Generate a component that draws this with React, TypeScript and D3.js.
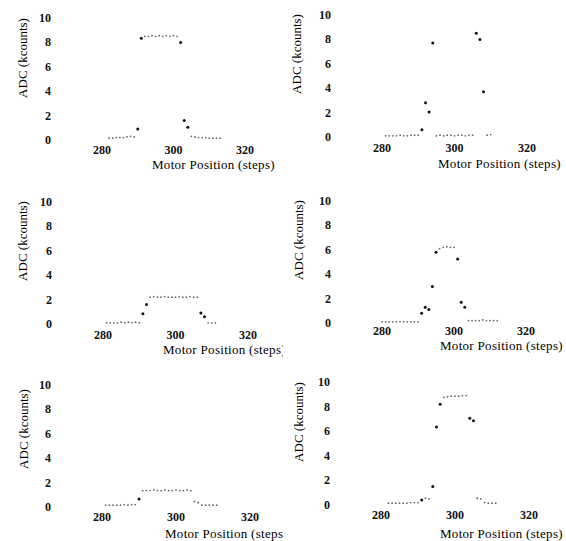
import React from "react";
import * as d3 from "d3";

// motor position (steps) and ADC reading (kcounts) for each of the six scans
const stepsA = [282, 283, 284, 285, 286, 287, 288, 289, 290, 291, 292, 293, 294, 295, 296, 297, 298, 299, 300, 301, 302, 303, 304, 305, 306, 307, 308, 309, 310, 311, 312, 313];
const adcA = [0.15, 0.15, 0.2, 0.2, 0.2, 0.25, 0.3, 0.25, 0.9, 8.35, 8.5, 8.5, 8.55, 8.5, 8.55, 8.5, 8.55, 8.5, 8.55, 8.5, 8.0, 1.6, 1.05, 0.3, 0.25, 0.2, 0.2, 0.2, 0.15, 0.15, 0.15, 0.15];

const stepsB = [281, 282, 283, 284, 285, 286, 287, 288, 289, 290, 291, 292, 293, 294, 295, 296, 297, 298, 299, 300, 301, 302, 303, 304, 305, 306, 307, 308, 309, 310];
const adcB = [0.1, 0.1, 0.1, 0.1, 0.15, 0.1, 0.1, 0.15, 0.15, 0.15, 0.6, 2.8, 2.05, 7.7, 0.1, 0.15, 0.1, 0.15, 0.15, 0.1, 0.15, 0.15, 0.1, 0.15, 0.15, 8.5, 8.0, 3.7, 0.15, 0.2];

const stepsC = [281, 282, 283, 284, 285, 286, 287, 288, 289, 290, 291, 292, 293, 294, 295, 296, 297, 298, 299, 300, 301, 302, 303, 304, 305, 306, 307, 308, 309, 310, 311];
const adcC = [0.1, 0.1, 0.1, 0.1, 0.15, 0.1, 0.15, 0.1, 0.15, 0.1, 0.85, 1.6, 2.2, 2.25, 2.2, 2.2, 2.25, 2.2, 2.2, 2.2, 2.25, 2.2, 2.2, 2.25, 2.2, 2.2, 0.9, 0.6, 0.1, 0.1, 0.1];

const stepsD = [280, 281, 282, 283, 284, 285, 286, 287, 288, 289, 290, 291, 292, 293, 294, 295, 296, 297, 298, 299, 300, 301, 302, 303, 304, 305, 306, 307, 308, 309, 310, 311, 312];
const adcD = [0.1, 0.1, 0.1, 0.1, 0.1, 0.1, 0.1, 0.1, 0.1, 0.1, 0.1, 0.8, 1.3, 1.1, 3.0, 5.8, 6.1, 6.2, 6.25, 6.2, 6.2, 5.25, 1.7, 1.3, 0.2, 0.2, 0.2, 0.2, 0.25, 0.2, 0.2, 0.2, 0.2];

const stepsE = [281, 282, 283, 284, 285, 286, 287, 288, 289, 290, 291, 292, 293, 294, 295, 296, 297, 298, 299, 300, 301, 302, 303, 304, 305, 306, 307, 308, 309, 310, 311];
const adcE = [0.15, 0.15, 0.15, 0.15, 0.15, 0.2, 0.15, 0.2, 0.2, 0.65, 1.35, 1.35, 1.35, 1.4, 1.35, 1.35, 1.4, 1.35, 1.35, 1.4, 1.35, 1.35, 1.4, 1.35, 0.45, 0.35, 0.15, 0.15, 0.15, 0.15, 0.15];

const stepsF = [282, 283, 284, 285, 286, 287, 288, 289, 290, 291, 292, 293, 294, 295, 296, 297, 298, 299, 300, 301, 302, 303, 304, 305, 306, 307, 308, 309, 310, 311];
const adcF = [0.15, 0.15, 0.15, 0.15, 0.15, 0.15, 0.2, 0.2, 0.2, 0.4, 0.55, 0.5, 1.5, 6.35, 8.2, 8.75, 8.8, 8.85, 8.85, 8.85, 8.9, 8.9, 7.05, 6.85, 0.55, 0.5, 0.2, 0.15, 0.15, 0.15];

const xTicks = [280, 300, 320];
const yTicks = [0, 2, 4, 6, 8, 10];
const xTitle = "Motor Position (steps)";
const yTitle = "ADC (kcounts)";

const font = "'Liberation Serif', 'Times New Roman', serif";

// where each scan sits on the page (pixel range of steps 280..320 and of 0..10 kcounts)
const layout = [
  { steps: stepsA, adc: adcA, xr: [102, 245], yr: [140, 18], clip: 283, tx: 152, ty: 164, yl: 22, ylc: 58, tickY: 150 },
  { steps: stepsB, adc: adcB, xr: [382, 527], yr: [137, 15], clip: 566, tx: 438, ty: 163, yl: 296, ylc: 54, tickY: 148 },
  { steps: stepsC, adc: adcC, xr: [103, 248], yr: [324, 202], clip: 283, tx: 163, ty: 349, yl: 22, ylc: 241, tickY: 335 },
  { steps: stepsD, adc: adcD, xr: [382, 526], yr: [323, 201], clip: 566, tx: 440, ty: 345, yl: 298, ylc: 240, tickY: 331 },
  { steps: stepsE, adc: adcE, xr: [102, 250], yr: [507, 385], clip: 283, tx: 165, ty: 533, yl: 23, ylc: 429, tickY: 517 },
  { steps: stepsF, adc: adcF, xr: [381, 529], yr: [505, 382], clip: 566, tx: 440, ty: 533, yl: 298, ylc: 422, tickY: 515 },
];

type PanelProps = { id: number; cfg: (typeof layout)[number] };

const Panel = ({ id, cfg }: PanelProps) => {
  const x = d3.scaleLinear().domain([280, 320]).range(cfg.xr);
  const y = d3.scaleLinear().domain([0, 10]).range(cfg.yr);
  const pts = cfg.steps.map((s, i) => ({ s, v: cfg.adc[i] }));

  // isolated readings print darker than the runs of near-equal ones
  const lone = pts.map((p, i) => {
    const d = [pts[i - 1], pts[i + 1]].filter(Boolean).map((q) => Math.abs(q.v - p.v));
    return Math.min(...d) > 0.15;
  });

  const left = cfg.clip === 283 ? 0 : 283;

  return (
    <g clipPath={`url(#clip${id})`}>
      <clipPath id={`clip${id}`}>
        <rect x={left} y={0} width={cfg.clip - left} height={541} />
      </clipPath>

      {yTicks.map((t) => (
        <text key={t} x={x(280) - 51} y={y(t)} textAnchor="end" dominantBaseline="central"
          fontSize={12} fontWeight="bold" fontFamily={font} fill="#111">
          {t}
        </text>
      ))}
      {xTicks.map((t) => (
        <text key={t} x={x(t)} y={cfg.tickY} textAnchor="middle" dominantBaseline="central"
          fontSize={12} fontWeight="bold" fontFamily={font} fill="#111">
          {t}
        </text>
      ))}

      <text x={cfg.tx} y={cfg.ty} dominantBaseline="central" fontSize={13} letterSpacing={0.3}
        fontFamily={font} fill="#000">
        {xTitle}
      </text>
      <text transform={`translate(${cfg.yl},${cfg.ylc}) rotate(-90)`} textAnchor="middle"
        dominantBaseline="central" fontSize={13} fontFamily={font} fill="#000">
        {yTitle}
      </text>

      {pts.map((p, i) => (
        <circle key={i} cx={x(p.s)} cy={y(p.v)} r={lone[i] ? 1.5 : 0.9}
          fill={lone[i] ? "#111" : "#666"} />
      ))}
    </g>
  );
};

export default function App() {
  return (
    <svg width={566} height={541} style={{ position: "absolute", left: 0, top: 0, background: "#fff" }}>
      {layout.map((cfg, i) => (
        <Panel key={i} id={i} cfg={cfg} />
      ))}
    </svg>
  );
}
